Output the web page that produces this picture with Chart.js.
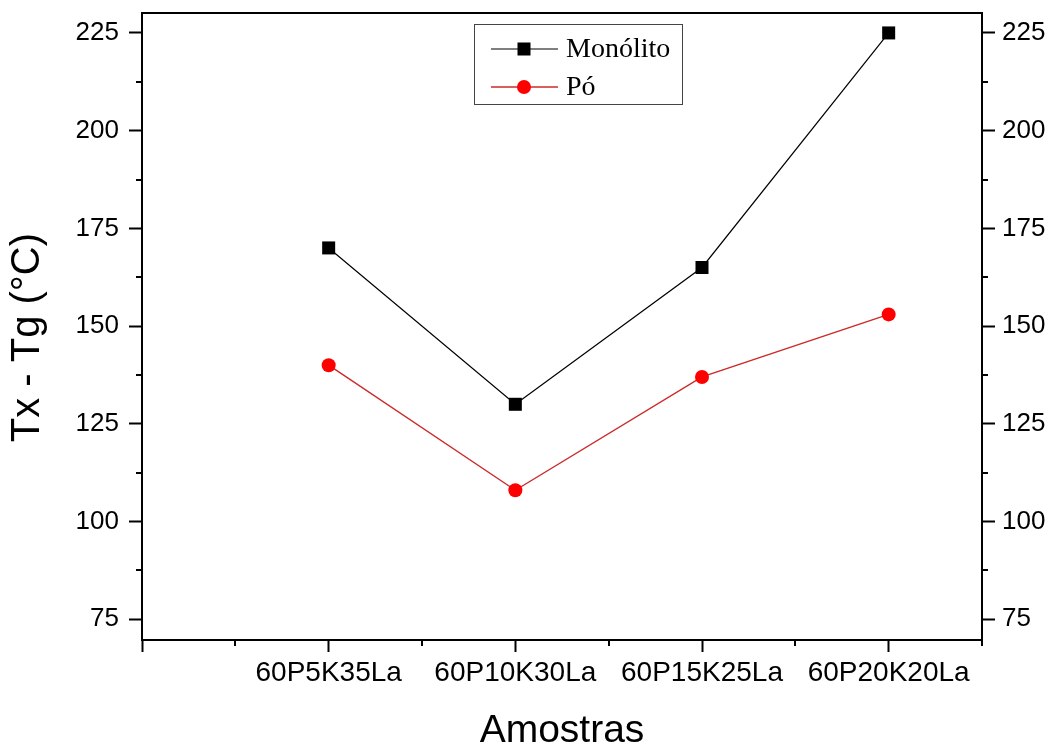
<!DOCTYPE html>
<html>
<head>
<meta charset="utf-8">
<title>Tx - Tg</title>
<script src="https://cdn.jsdelivr.net/npm/chart.js@4.4.1/dist/chart.umd.min.js"></script>
<style>
  html, body { margin: 0; padding: 0; background: #fff; }
  #wrap { width: 1057px; height: 747px; }
</style>
</head>
<body>
<div id="wrap"><canvas id="tgChart" width="1057" height="747"></canvas></div>
<script>
// samples, placed at x = 1..4
const amostras = ["60P5K35La", "60P10K30La", "60P15K25La", "60P20K20La"];
// Tx - Tg (°C) per sample
const monolito = [170, 130, 165, 225];
const po = [140, 108, 137, 153];
// labelled ticks
const yTicks = [75, 100, 125, 150, 175, 200, 225];
const xTicks = [0, 1, 2, 3, 4];

const FONT = "'Liberation Sans', Arial, sans-serif";
const SERIF = "'Liberation Serif', 'Times New Roman', serif";

function toPoints(values) {
  return values.map((v, i) => ({ x: i + 1, y: v }));
}

// short ticks halfway between the labelled ones + top edge of the frame
const minorTicks = {
  id: "minorTicks",
  afterDraw(chart) {
    const ctx = chart.ctx;
    const area = chart.chartArea;
    ctx.save();
    ctx.strokeStyle = "#000";
    ctx.lineWidth = 2;
    ctx.beginPath();
    ctx.moveTo(area.left - 1, area.top);
    ctx.lineTo(area.right + 1, area.top);
    const yMinor = yTicks.slice(0, -1).map((v, i) => (v + yTicks[i + 1]) / 2);
    yMinor.forEach(v => {
      const py = Math.round(chart.scales.y.getPixelForValue(v));
      ctx.moveTo(area.left, py); ctx.lineTo(area.left - 6, py);
      ctx.moveTo(area.right, py); ctx.lineTo(area.right + 6, py);
    });
    xTicks.map(v => v + 0.5).forEach(v => {
      const px = Math.round(chart.scales.x.getPixelForValue(v));
      ctx.moveTo(px, area.bottom); ctx.lineTo(px, area.bottom + 6);
    });
    ctx.stroke();
    ctx.restore();
  }
};

// legend with a line sample running through the marker
const lineLegend = {
  id: "lineLegend",
  afterDraw(chart) {
    const ctx = chart.ctx;
    const box = { left: 474, top: 24, width: 208, height: 80 };
    ctx.save();
    ctx.fillStyle = "#fff";
    ctx.fillRect(box.left, box.top, box.width, box.height);
    ctx.strokeStyle = "#444";
    ctx.lineWidth = 1;
    ctx.strokeRect(box.left + 0.5, box.top + 0.5, box.width, box.height);
    ctx.font = "28px " + SERIF;
    ctx.textBaseline = "middle";
    chart.data.datasets.forEach((ds, i) => {
      const y = box.top + 25 + i * 38;
      ctx.strokeStyle = ds.borderColor;
      ctx.lineWidth = ds.borderWidth;
      ctx.beginPath();
      ctx.moveTo(box.left + 17, y);
      ctx.lineTo(box.left + 84, y);
      ctx.stroke();
      ctx.fillStyle = ds.pointBackgroundColor;
      Chart.helpers.drawPoint(ctx, { pointStyle: ds.pointStyle, radius: ds.pointRadius, borderWidth: 0, rotation: 0 }, box.left + 50, y);
      ctx.fillStyle = "#000";
      ctx.fillText(ds.label, box.left + 92, y + 1);
    });
    ctx.restore();
  }
};

const yScale = (side) => ({
  type: "linear",
  position: side,
  min: 69.7,
  max: 230.1,
  afterBuildTicks: s => { s.ticks = yTicks.map(v => ({ value: v })); },
  afterFit: s => {
    s.width = side === "left" ? 142 : 75;
    s.paddingTop = 0;
    s.paddingBottom = 0;
  },
  grid: { drawOnChartArea: false, tickLength: 13, tickWidth: 2, tickColor: "#000" },
  border: { color: "#000", width: 2 },
  ticks: { color: "#000", font: { family: FONT, size: 26 }, padding: side === "left" ? 10 : 7 },
  title: {
    display: side === "left",
    text: "Tx - Tg (°C)  ",
    color: "#000",
    font: { family: FONT, size: 40 },
    padding: { top: 4, bottom: 0 }
  }
});

const ctx = document.getElementById("tgChart").getContext("2d");
new Chart(ctx, {
  type: "line",
  data: {
    datasets: [
      {
        label: "Monólito",
        data: toPoints(monolito),
        borderColor: "#000",
        borderWidth: 1.2,
        pointStyle: "rect",
        pointRadius: 9.2,
        pointBackgroundColor: "#000",
        pointBorderWidth: 0,
        tension: 0
      },
      {
        label: "Pó",
        data: toPoints(po),
        borderColor: "#cc2a2a",
        borderWidth: 1.4,
        pointStyle: "circle",
        pointRadius: 7,
        pointBackgroundColor: "#ff0000",
        pointBorderWidth: 0,
        tension: 0
      }
    ]
  },
  options: {
    responsive: false,
    animation: false,
    layout: { padding: { top: 13, left: 0, right: 0, bottom: 0 } },
    plugins: { legend: { display: false }, tooltip: { enabled: false } },
    scales: {
      x: {
        type: "linear",
        min: 0,
        max: 4.5,
        afterBuildTicks: s => { s.ticks = xTicks.map(v => ({ value: v })); },
        afterFit: s => {
          s.height = 107;
          s.paddingLeft = 0;
          s.paddingRight = 0;
        },
        grid: { drawOnChartArea: false, tickLength: 12, tickWidth: 2, tickColor: "#000" },
        border: { color: "#000", width: 2 },
        ticks: {
          color: "#000",
          font: { family: FONT, size: 28 },
          padding: 4,
          maxRotation: 0,
          autoSkip: false,
          callback: v => amostras[v - 1] || ""
        },
        title: {
          display: true,
          text: "Amostras",
          color: "#000",
          font: { family: FONT, size: 39, lineHeight: 0.8 },
          padding: 0
        }
      },
      y: yScale("left"),
      y2: yScale("right")
    }
  },
  plugins: [minorTicks, lineLegend]
});
</script>
</body>
</html>
